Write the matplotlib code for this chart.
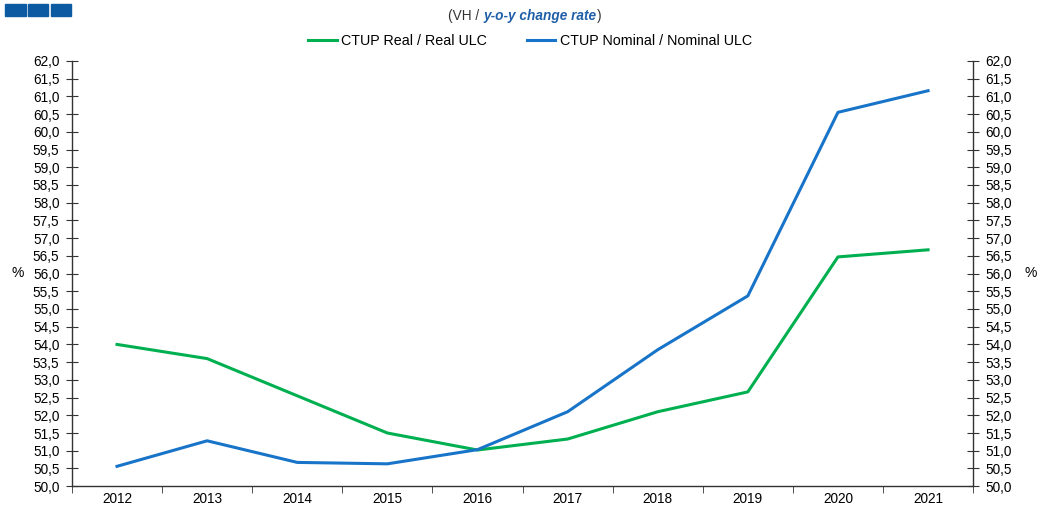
import matplotlib
matplotlib.use("Agg")
import matplotlib.pyplot as plt
from matplotlib.patches import Rectangle

plt.rcParams['font.family'] = ['Liberation Sans', 'DejaVu Sans']

years = ['2012', '2013', '2014', '2015', '2016', '2017', '2018', '2019', '2020', '2021']
real_ulc = [54.0, 53.6, 52.55, 51.5, 51.02, 51.33, 52.1, 52.66, 56.47, 56.67]
nominal_ulc = [50.56, 51.28, 50.67, 50.63, 51.03, 52.1, 53.85, 55.37, 60.55, 61.16]
y_ticks = [50.0 + 0.5 * i for i in range(25)]

green = '#00B050'
blue = '#1874C8'

fig = plt.figure(figsize=(10.43, 5.08), dpi=100)
ax = fig.add_axes([0.069, 0.043, 0.864, 0.837])
x = list(range(len(years)))
ax.plot(x, real_ulc, color=green, lw=2.2, label='CTUP Real / Real ULC')
ax.plot(x, nominal_ulc, color=blue, lw=2.2, label='CTUP Nominal / Nominal ULC')

ax.set_xlim(-0.5, len(years) - 0.5)
ax.set_ylim(50, 62)
ax.set_xticks(x)
ax.set_xticklabels(years, fontsize=9.8)
ax.set_xticks([i + 0.5 for i in range(-1, len(years))], minor=True)
ax.tick_params(axis='x', which='major', length=0, pad=4)
ax.tick_params(axis='x', which='minor', length=5, direction='out', color='#333333')
ax.set_yticks(y_ticks)
ax.set_yticklabels([f'{v:.1f}'.replace('.', ',') for v in y_ticks], fontsize=9.8)
ax.tick_params(axis='y', which='both', direction='inout', length=8, color='#333333',
               labelleft=True, labelright=True, left=True, right=True, pad=5)
ax.spines['top'].set_visible(False)
for s in ['left', 'right', 'bottom']:
    ax.spines[s].set_color('#333333')
    ax.spines[s].set_linewidth(1.0)

fig.text(0.011, 0.462, '%', fontsize=10, va='center')
fig.text(0.982, 0.462, '%', fontsize=10, va='center')

# title with mixed styles
t1 = fig.text(0.43, 0.968, '(VH / ', fontsize=9.8, color='#333333', va='center')
t2 = fig.text(0, 0, 'y-o-y change rate', fontsize=9.8, color='#1F5FA8',
              fontweight='bold', fontstyle='italic', va='center')
t3 = fig.text(0, 0, ')', fontsize=9.8, color='#333333', va='center')
fig.canvas.draw()
r = fig.canvas.get_renderer()
bb = t1.get_window_extent(r)
t2.set_position((bb.x1 / fig.bbox.width, 0.968))
bb2 = t2.get_window_extent(r)
t3.set_position((bb2.x1 / fig.bbox.width, 0.968))

fig.legend(loc='center', bbox_to_anchor=(0.508, 0.92), ncol=2, frameon=False,
           fontsize=10.3, handlelength=2.0, handletextpad=0.3, columnspacing=2.8)

# logo squares
for i in range(3):
    fig.patches.append(Rectangle((0.005 + i * 0.022, 0.968), 0.0195, 0.024,
                                 transform=fig.transFigure, color='#0B5AA2', figure=fig))

fig.savefig('out.png', dpi=100)
